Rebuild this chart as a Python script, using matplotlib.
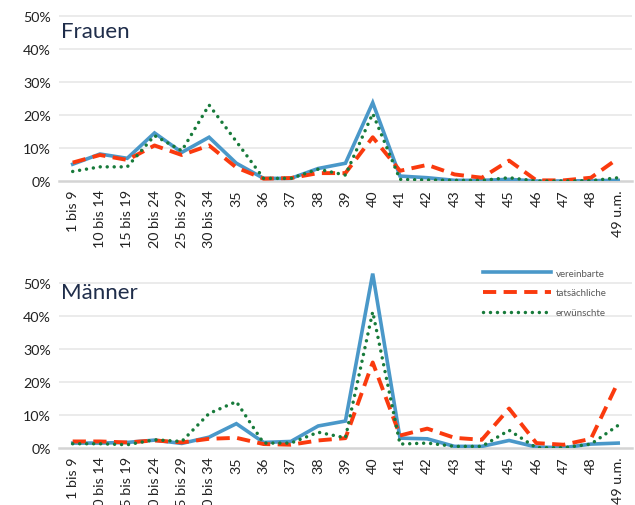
import matplotlib.pyplot as plt

# Kategorien (Arbeitszeit in Stunden)
kategorien = ['1 bis 9', '10 bis 14', '15 bis 19', '20 bis 24', '25 bis 29', '30 bis 34',
              '35', '36', '37', '38', '39', '40', '41', '42', '43', '44', '45', '46',
              '47', '48', '49 u.m.']

# Frauen, Anteile in %
frauen_vereinbarte = [5.1, 8.2, 6.9, 14.6, 8.7, 13.3, 5.4, 0.8, 0.8, 3.8, 5.4, 23.8,
                      1.5, 1.0, 0.2, 0.2, 0.5, 0.0, 0.0, 0.1, 0.2]
frauen_tatsaechliche = [5.6, 7.9, 6.4, 10.8, 7.9, 10.8, 4.1, 0.7, 0.9, 2.4, 2.4, 13.3,
                        3.1, 4.9, 2.0, 1.0, 6.2, 0.2, 0.2, 1.0, 6.9]
frauen_erwuenschte = [2.9, 4.3, 4.3, 13.8, 9.2, 23.1, 12.0, 0.8, 0.8, 3.6, 1.8, 20.5,
                      0.5, 0.3, 0.2, 0.2, 1.0, 0.0, 0.0, 0.1, 1.0]

# Männer, Anteile in %
maenner_vereinbarte = [1.5, 1.5, 1.7, 2.4, 1.4, 3.3, 7.4, 1.7, 2.0, 6.7, 8.2, 53.0,
                       3.0, 2.8, 0.5, 0.5, 2.3, 0.3, 0.1, 1.2, 1.5]
maenner_tatsaechliche = [2.0, 2.0, 1.7, 2.3, 1.7, 2.8, 3.1, 1.2, 1.0, 2.3, 3.0, 26.0,
                         3.8, 5.9, 3.1, 2.5, 12.0, 1.5, 1.0, 2.8, 20.1]
maenner_erwuenschte = [1.3, 1.3, 1.0, 2.5, 2.0, 10.5, 14.1, 1.5, 1.5, 4.8, 3.1, 41.4,
                       1.2, 1.5, 0.5, 0.5, 5.4, 0.1, 0.1, 1.2, 6.9]

plt.rcParams['font.family'] = ['Lato', 'DejaVu Sans']

fig = plt.figure(figsize=(6.35, 5.06), dpi=100)
ax1 = fig.add_axes([0.093, 0.6403, 0.902, 0.3577])
ax2 = fig.add_axes([0.093, 0.1126, 0.902, 0.3577])

x = range(len(kategorien))

def panel(ax, titel, titel_y, v, t, e):
    ax.plot(x, v, color='#4a98c9', lw=2.6, solid_joinstyle='miter', label='vereinbarte', zorder=3)
    ax.plot(x, t, color='#fa3a0e', lw=2.8, dashes=(3.4, 1.9), label='tatsächliche', zorder=4)
    ax.plot(x, e, color='#177a3a', lw=2.5, dashes=(0.01, 2.0), dash_capstyle='round',
            label='erwünschte', zorder=5)
    ax.set_xlim(-0.5, len(kategorien) - 0.5)
    ax.set_ylim(0, 55)
    ax.set_yticks([0, 10, 20, 30, 40, 50])
    ax.set_yticklabels(['0%', '10%', '20%', '30%', '40%', '50%'])
    ax.set_xticks(list(x))
    ax.set_xticklabels(kategorien, rotation=90)
    for yv in [10, 20, 30, 40, 50]:
        ax.axhline(yv, color='#e9e9e9', lw=1.3, zorder=1)
    for s in ['top', 'right', 'left']:
        ax.spines[s].set_visible(False)
    ax.spines['bottom'].set_color('#d4d4d4')
    ax.spines['bottom'].set_linewidth(1.8)
    ax.tick_params(axis='both', length=0, labelsize=10.3, colors='#222222')
    ax.tick_params(axis='x', pad=6)
    ax.tick_params(axis='y', pad=6)
    ax.text(0.004, titel_y, titel, transform=ax.transAxes, fontsize=16,
            color='#1f2d4a', va='center')

panel(ax1, 'Frauen', 0.83, frauen_vereinbarte, frauen_tatsaechliche, frauen_erwuenschte)
panel(ax2, 'Männer', 0.86, maenner_vereinbarte, maenner_tatsaechliche, maenner_erwuenschte)

leg = ax2.legend(loc='upper left', bbox_to_anchor=(0.725, 1.04), frameon=False,
                 fontsize=7, handlelength=7.0, labelspacing=1.1, handletextpad=0.5)
for txt in leg.get_texts():
    txt.set_color('#595959')

fig.savefig('out.png', dpi=100)
